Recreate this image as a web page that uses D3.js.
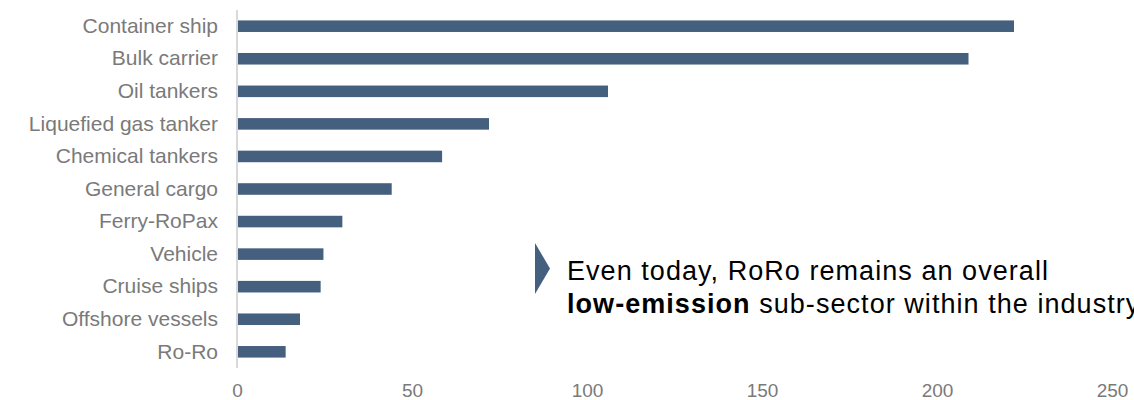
<!DOCTYPE html>
<html>
<head>
<meta charset="utf-8">
<script src="https://cdn.jsdelivr.net/npm/d3@7"></script>
<style>
  html, body { margin: 0; padding: 0; background: #fff; overflow: hidden; }
  svg { display: block; }
</style>
</head>
<body>
<svg id="chart" width="1134" height="400"></svg>
<script>
// Ship types, top to bottom
const categories = [
  "Container ship", "Bulk carrier", "Oil tankers", "Liquefied gas tanker",
  "Chemical tankers", "General cargo", "Ferry-RoPax", "Vehicle",
  "Cruise ships", "Offshore vessels", "Ro-Ro"
];
// Emissions per ship type
const values = [222, 209, 106, 72, 58.6, 44.2, 30.1, 24.7, 23.9, 18, 13.9];
const xTicks = [0, 50, 100, 150, 200, 250];
const noteLine1 = "Even today, RoRo remains an overall";
const noteBold = "low-emission";
const noteRest = " sub-sector within the industry";

const svg = d3.select("#chart");
const barColor = "#455f7e";
const labelColor = "#7a7a7a";
const font = "'Liberation Sans', Arial, sans-serif";

const x = d3.scaleLinear().domain([0, 250]).range([237, 1112]);
const y = d3.scaleBand().domain(categories).range([10, 368]).paddingInner(0.645).paddingOuter(0.32);

// Bars
svg.append("g").selectAll("rect")
  .data(categories)
  .join("rect")
  .attr("x", x(0) + 1)
  .attr("y", d => y(d))
  .attr("width", (d, i) => x(values[i]) - x(0) - 1)
  .attr("height", y.bandwidth())
  .attr("fill", barColor);

// Category axis line
svg.append("line")
  .attr("x1", x(0)).attr("x2", x(0))
  .attr("y1", 10).attr("y2", 368)
  .attr("stroke", "#d9d9d9").attr("stroke-width", 2);

// Category labels
const yAxis = svg.append("g")
  .attr("transform", `translate(${x(0)},0)`)
  .call(d3.axisLeft(y).tickSize(0).tickPadding(19));
yAxis.select(".domain").remove();
yAxis.selectAll("text")
  .attr("fill", labelColor)
  .style("font-family", font)
  .style("font-size", "21px");

// Value axis labels
const xAxis = svg.append("g")
  .attr("transform", "translate(0,383)")
  .call(d3.axisBottom(x).tickValues(xTicks).tickSize(0).tickPadding(0).tickFormat(d3.format("d")));
xAxis.select(".domain").remove();
xAxis.selectAll("text")
  .attr("fill", labelColor)
  .attr("dy", "0.71em")
  .style("font-family", font)
  .style("font-size", "19px");

// Annotation marker
svg.append("path")
  .attr("d", d3.line()([[535, 243], [550, 268.5], [535, 294]]) + "Z")
  .attr("fill", barColor);

// Annotation text
const note = svg.append("text")
  .attr("x", 567)
  .attr("y", 280)
  .attr("fill", "#000")
  .style("font-family", font)
  .style("font-size", "27px")
  .style("letter-spacing", "1.05px");
note.append("tspan").text(noteLine1);
const line2 = svg.append("text")
  .attr("x", 567)
  .attr("y", 313)
  .attr("fill", "#000")
  .style("font-family", font)
  .style("font-size", "27px")
  .style("letter-spacing", "1.05px");
line2.append("tspan").attr("font-weight", "bold").text(noteBold);
line2.append("tspan").text(noteRest);
</script>
</body>
</html>
